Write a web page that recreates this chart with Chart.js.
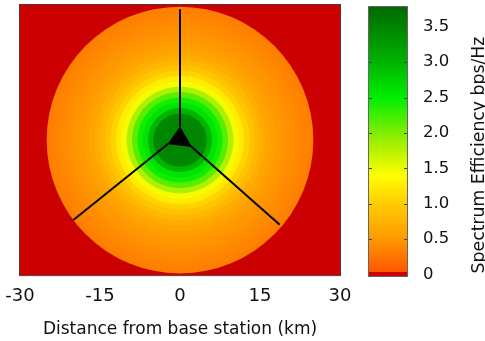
<!DOCTYPE html>
<html>
<head>
<meta charset="utf-8">
<script src="https://cdn.jsdelivr.net/npm/chart.js@4/dist/chart.umd.min.js"></script>
<style>
  html, body { margin: 0; background: #fff; }
</style>
</head>
<body>
<canvas id="myChart" width="485" height="341"></canvas>
<script>
// Radial coverage profile: outer radius of each ring (km)
// and the spectrum efficiency inside it (bps/Hz)
const ringRadius = [1, 2, 3, 4, 5, 6, 7, 8, 9, 10, 11, 12, 13, 14, 15, 16, 17, 18, 19, 20, 21, 22, 23, 24, 25];
const ringEfficiency = [3.5, 3.5, 3.5, 3.48, 3.45, 3.0, 2.6, 2.45, 2.15, 1.8, 1.45, 1.25, 1.05, 0.92, 0.8,
  0.7, 0.62, 0.56, 0.5, 0.47, 0.44, 0.41, 0.38, 0.35, 0.32];

// Sector boundaries (km) from the antenna triangle out to the cell edge
const sectorTop = [{ x: 0, y: 2.4 }, { x: 0, y: 24.7 }];
const sectorLeft = [{ x: -2.2, y: -0.7 }, { x: -20, y: -15.1 }];
const sectorRight = [{ x: 2.1, y: -1.2 }, { x: 18.7, y: -16 }];
const antenna = [{ x: 0, y: 2.4 }, { x: -2.2, y: -0.7 }, { x: 2.1, y: -1.2 }, { x: 0, y: 2.4 }];

const xTicks = [-30, -15, 0, 15, 30];
const cbTicks = [0, 0.5, 1.0, 1.5, 2.0, 2.5, 3.0, 3.5];
const cbLabels = ['0', '0.5', '1.0', '1.5', '2.0', '2.5', '3.0', '3.5'];
const cbMax = 3.78;

// colour map
const stops = [
  [0.03, [255, 85, 0]],
  [0.5, [255, 153, 0]],
  [1.0, [255, 204, 0]],
  [1.4, [255, 255, 0]],
  [1.9, [153, 238, 0]],
  [2.5, [0, 238, 0]],
  [3.0, [0, 180, 0]],
  [3.78, [0, 106, 0]]
];
function colorFor(v) {
  if (v < 0.03) return 'rgb(204,0,0)';
  for (let i = 1; i < stops.length; i++) {
    if (v <= stops[i][0]) {
      const a = stops[i - 1], b = stops[i];
      const t = (v - a[0]) / (b[0] - a[0]);
      const c = a[1].map((ch, k) => Math.round(ch + (b[1][k] - ch) * t));
      return 'rgb(' + c.join(',') + ')';
    }
  }
  return 'rgb(' + stops[stops.length - 1][1].join(',') + ')';
}

// rings drawn biggest first so the inner ones sit on top
const order = ringRadius.map((r, i) => i).reverse();
const ringData = order.map(() => ({ x: 0, y: 0 }));

const font = 'DejaVu Sans';

const backdrop = {
  id: 'backdrop',
  beforeDatasetsDraw(chart) {
    const { ctx, chartArea: a } = chart;
    ctx.save();
    ctx.fillStyle = colorFor(0);
    ctx.fillRect(a.left, a.top, a.width, a.height);
    ctx.restore();
  },
  afterDatasetsDraw(chart) {
    const { ctx, chartArea: a } = chart;
    ctx.save();
    ctx.strokeStyle = 'rgba(70,30,30,0.9)';
    ctx.lineWidth = 1;
    ctx.strokeRect(a.left - 0.5, a.top - 0.5, a.width + 1, a.height + 1);
    ctx.restore();
  }
};

const colorBar = {
  id: 'colorBar',
  afterDraw(chart) {
    const { ctx } = chart;
    const left = 369, width = 38;
    const top = 7, bottom = 276;
    const vMin = -0.02;
    const yOf = v => bottom - (v - vMin) / (cbMax - vMin) * (bottom - top);
    ctx.save();
    for (let y = top; y < bottom; y++) {
      const v = vMin + (bottom - y - 0.5) / (bottom - top) * (cbMax - vMin);
      ctx.fillStyle = colorFor(v);
      ctx.fillRect(left, y, width, 1);
    }
    ctx.strokeStyle = '#666';
    ctx.lineWidth = 1;
    ctx.strokeRect(left - 0.5, top - 0.5, width + 1, bottom - top + 1);
    ctx.fillStyle = '#111';
    ctx.font = '16.5px "' + font + '"';
    ctx.textBaseline = 'middle';
    ctx.textAlign = 'left';
    cbTicks.forEach((v, i) => {
      const y = Math.round(yOf(v)) + 0.5;
      if (v > 0) {
        ctx.beginPath();
        ctx.moveTo(left, y); ctx.lineTo(left + 3, y);
        ctx.moveTo(left + width - 3, y); ctx.lineTo(left + width, y);
        ctx.strokeStyle = '#444';
        ctx.stroke();
      }
      ctx.fillText(cbLabels[i], left + 54, yOf(v));
    });
    // colour bar title, rotated
    ctx.translate(484, 155);
    ctx.rotate(-Math.PI / 2);
    ctx.textAlign = 'center';
    ctx.textBaseline = 'alphabetic';
    ctx.font = '17.3px "' + font + '"';
    ctx.fillText('Spectrum Efficiency bps/Hz', 0, 0);
    ctx.restore();
  }
};

const lineStyle = {
  type: 'line',
  borderColor: '#000',
  borderWidth: 2,
  pointRadius: 0,
  fill: false,
  order: 0
};

new Chart(document.getElementById('myChart'), {
  type: 'scatter',
  data: {
    datasets: [
      Object.assign({ data: sectorTop }, lineStyle),
      Object.assign({ data: sectorLeft }, lineStyle),
      Object.assign({ data: sectorRight }, lineStyle),
      Object.assign({}, lineStyle, { data: antenna, borderWidth: 1, fill: 'shape', backgroundColor: '#000' }),
      {
        data: ringData,
        order: 1,
        showLine: false,
        pointBorderWidth: 0,
        pointHoverBorderWidth: 0,
        pointRadius: c => {
          const x = c.chart.scales.x;
          return x.getPixelForValue(ringRadius[order[c.dataIndex]]) - x.getPixelForValue(0);
        },
        pointBackgroundColor: c => colorFor(ringEfficiency[order[c.dataIndex]])
      }
    ]
  },
  options: {
    responsive: false,
    animation: false,
    events: [],
    layout: { autoPadding: false, padding: { left: 20, right: 145, top: 5, bottom: 1 } },
    plugins: { legend: { display: false }, tooltip: { enabled: false } },
    scales: {
      x: {
        type: 'linear',
        min: -30,
        max: 30,
        afterBuildTicks: axis => { axis.ticks = xTicks.map(v => ({ value: v })); },
        grid: { display: false, drawTicks: false },
        border: { display: false },
        ticks: { color: '#111', padding: 5, font: { family: font, size: 18, lineHeight: 1.75 } },
        title: {
          display: true,
          text: 'Distance from base station (km)',
          color: '#111',
          padding: { top: 3, bottom: 0 },
          font: { family: font, size: 17 }
        }
      },
      y: {
        type: 'linear',
        min: -25.5,
        max: 25.5,
        display: false
      }
    }
  },
  plugins: [backdrop, colorBar]
});
</script>
</body>
</html>
